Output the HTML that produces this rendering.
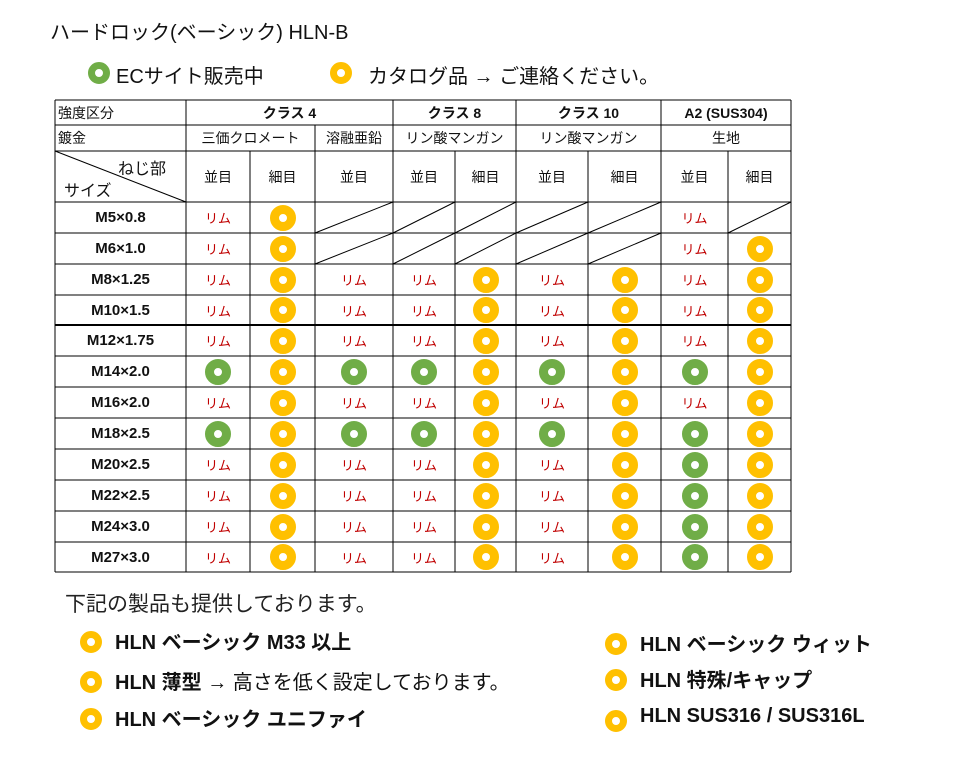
<!DOCTYPE html>
<html><head><meta charset="utf-8"><style>
body{margin:0;width:978px;height:758px;background:#fff;position:relative;overflow:hidden;font-family:"Liberation Sans","Noto Sans CJK JP",sans-serif;color:#111}
.a{position:absolute;white-space:nowrap}
.t{position:absolute;display:flex;align-items:center;justify-content:center;font-size:14px}
.r{position:absolute;border-radius:50%;box-sizing:border-box}
.b{font-weight:bold}
</style></head><body>
<div class="a" style="left:50px;top:16px;font-size:20px">ハードロック(ベーシック) HLN-B</div>
<div class="r" style="left:88px;top:62px;width:22px;height:22px;border:7px solid #70ad47"></div>
<div class="a" style="left:116px;top:60px;font-size:20px">ECサイト販売中</div>
<div class="r" style="left:330px;top:62px;width:22px;height:22px;border:7px solid #ffc000"></div>
<div class="a" style="left:368px;top:60px;font-size:20px">カタログ品 → ご連絡ください。</div>
<svg class="a" style="left:0;top:0" width="978" height="758" id="sv"></svg>
<div id="tb"></div>
<div class="a" style="left:65px;top:588px;font-size:21px;color:#222">下記の製品も提供しております。</div>
<div id="ls"></div>
<script>
const X=[55,186,250,315,393,455,516,588,661,728,791];
const Y=[100,125,151,202,233,264,295,325,356,387,418,449,480,511,542,572];
let s='';const L=(a,b,c,d,w)=>s+=`<line x1="${a}" y1="${b}" x2="${c}" y2="${d}" stroke="#000" stroke-width="${w||1}"/>`;
L(55,100,791,100);L(55,572,791,572);L(55,100,55,572);L(791,100,791,572);
L(55,125,791,125);L(55,151,791,151);
for(let i=4;i<Y.length-1;i++)L(55,Y[i],791,Y[i],i==7?2:1);
L(55,202,791,202);
L(186,100,186,572);L(393,100,393,572);L(516,100,516,572);L(661,100,661,572);
L(315,125,315,572);
[250,455,588,728].forEach(x=>L(x,151,x,572));
L(55,151,186,202);
let tb='';const T=(x,y,w,h,t,st)=>tb+=`<div class="t" style="left:${x}px;top:${y}px;width:${w}px;height:${h}px;${st||''}">${t}</div>`;
T(58,100,120,25,'強度区分','justify-content:flex-start');
T(58,125,120,26,'鍍金','justify-content:flex-start');
T(186,100,207,25,'クラス 4','font-weight:bold');T(393,100,123,25,'クラス 8','font-weight:bold');
T(516,100,145,25,'クラス 10','font-weight:bold');T(661,100,130,25,'A2 (SUS304)','font-weight:bold');
T(186,125,129,26,'三価クロメート');T(315,125,78,26,'溶融亜鉛');T(393,125,123,26,'リン酸マンガン');T(516,125,145,26,'リン酸マンガン');T(661,125,130,26,'生地');
tb+=`<div class="a" style="left:118px;top:155px;font-size:16px">ねじ部</div><div class="a" style="left:64px;top:177px;font-size:16px">サイズ</div>`;
const hd=['並目','細目','並目','並目','細目','並目','細目','並目','細目'];
for(let c=1;c<10;c++)T(X[c],151,X[c+1]-X[c],51,hd[c-1]);
const rows=['M5×0.8','M6×1.0','M8×1.25','M10×1.5','M12×1.75','M14×2.0','M16×2.0','M18×2.5','M20×2.5','M22×2.5','M24×3.0','M27×3.0'];
const std='RYRRYRYRY',grn='GYGGYGYGY',late='RYRRYRYGY';
const pat=['RYSSSSSRS','RYSSSSSRY',std,std,std,grn,std,grn,late,late,late,late];
rows.forEach((n,i)=>{const y=Y[i+3],h=Y[i+4]-y;
T(55,y,131,h,n,'font-weight:bold;font-size:15px');
for(let c=0;c<9;c++){const x=X[c+1],w=X[c+2]-x,k=pat[i][c];
if(k=='R')T(x,y,w,h,'リム','color:#c00000;font-size:13px');
else if(k=='S')L(x,y+h,x+w,y);
else{const cx=x+w/2,cy=y+h/2;tb+=`<div class="r" style="left:${cx-13}px;top:${cy-13}px;width:26px;height:26px;border:9px solid ${k=='G'?'#70ad47':'#ffc000'}"></div>`;}}});
document.getElementById('sv').innerHTML=s;document.getElementById('tb').innerHTML=tb;
let ls='';const I=(x,y,t)=>ls+=`<div class="r" style="left:${x}px;top:${y}px;width:22px;height:22px;border:7px solid #ffc000"></div><div class="a b" style="left:${x+35}px;top:${y-5}px;font-size:20px">${t}</div>`;
I(80,631,'HLN ベーシック M33 以上');I(80,671,'HLN 薄型 <span style="font-weight:normal">→ 高さを低く設定しております。</span>');I(80,708,'HLN ベーシック ユニファイ');
I(605,633,'HLN ベーシック ウィット');I(605,669,'HLN 特殊/キャップ');I(605,710,'HLN SUS316 / SUS316L');
document.getElementById('ls').innerHTML=ls;
</script>
</body></html>
